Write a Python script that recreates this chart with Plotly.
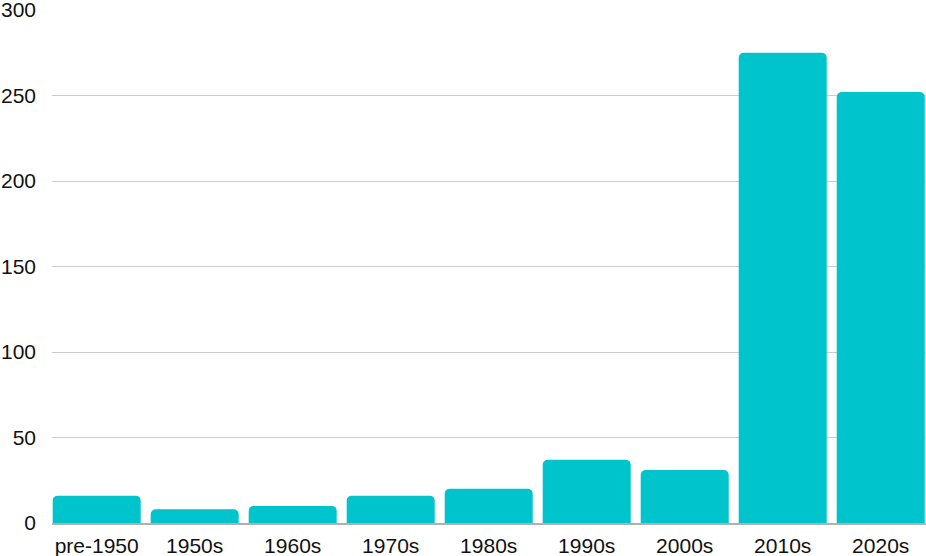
import plotly.graph_objects as go

categories = ["pre-1950", "1950s", "1960s", "1970s", "1980s", "1990s", "2000s", "2010s", "2020s"]
values = [16, 8, 10, 16, 20, 37, 31, 275, 252]
y_ticks = [0, 50, 100, 150, 200, 250, 300]

fig = go.Figure(go.Bar(x=categories, y=values, marker=dict(color="#00C4CC", line=dict(width=0))))
fig.update_layout(
    width=926, height=556,
    margin=dict(l=52, r=0, t=10, b=33, autoexpand=False),
    paper_bgcolor="white", plot_bgcolor="white",
    bargap=0.102,
    barcornerradius=5,
    font=dict(family="Liberation Sans, Arial, sans-serif", size=21, color="#111"),
    showlegend=False,
)
fig.update_xaxes(automargin=False, range=[-0.456, 8.462], showline=True, linecolor="#b0b0b0", linewidth=2,
                 ticks="", ticklabelstandoff=3, showgrid=False, ticklabeloverflow="allow")
fig.update_yaxes(automargin=False, range=[0, 300], tickvals=y_ticks, showgrid=True, gridcolor="#cccccc",
                 gridwidth=1, zeroline=False, ticks="", ticklabelstandoff=15, ticklabeloverflow="allow")
fig.write_html("out.html", config={"displayModeBar": False},
               post_script="document.body.style.margin='0';document.body.style.overflow='hidden';")
